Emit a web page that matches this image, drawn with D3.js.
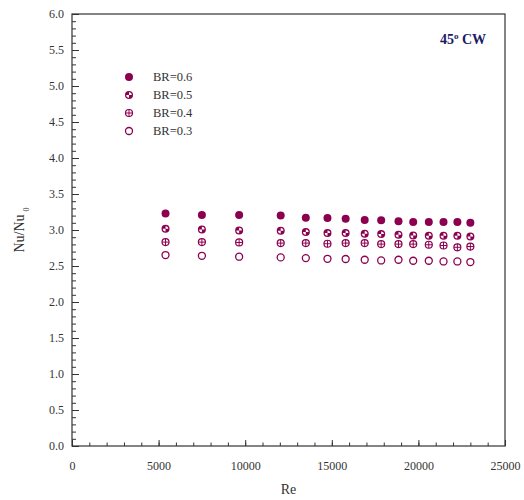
<!DOCTYPE html>
<html>
<head>
<meta charset="utf-8">
<script src="https://cdn.jsdelivr.net/npm/d3@7"></script>
<style>
  body { margin: 0; background: #fff; }
  text { font-family: "Liberation Serif", "Times New Roman", serif; }
</style>
</head>
<body>
<div id="chart"></div>
<script>
// Reynolds numbers for each measured point
var reValues = [5400, 7500, 9650, 12050, 13500, 14750, 15800, 16900, 17850, 18850, 19700, 20600, 21450, 22250, 23000];

// Nu/Nu0 for each blockage ratio
var br06 = [3.23, 3.21, 3.21, 3.20, 3.17, 3.165, 3.155, 3.14, 3.135, 3.12, 3.11, 3.11, 3.11, 3.11, 3.10];
var br05 = [3.016, 3.007, 2.993, 2.989, 2.971, 2.957, 2.957, 2.947, 2.943, 2.933, 2.924, 2.92, 2.92, 2.92, 2.91];
var br04 = [2.832, 2.832, 2.827, 2.818, 2.818, 2.809, 2.818, 2.818, 2.804, 2.804, 2.804, 2.795, 2.785, 2.76, 2.77];
var br03 = [2.652, 2.642, 2.629, 2.619, 2.61, 2.60, 2.597, 2.587, 2.577, 2.587, 2.573, 2.573, 2.563, 2.563, 2.555];

var seriesNames = ["BR=0.6", "BR=0.5", "BR=0.4", "BR=0.3"];
var seriesValues = [br06, br05, br04, br03];
var markerKinds = ["filled", "quarter", "cross", "open"];

var xTicks = [0, 5000, 10000, 15000, 20000, 25000];
var yTicks = [0, 0.5, 1, 1.5, 2, 2.5, 3, 3.5, 4, 4.5, 5, 5.5, 6];

var markColor = "#8c0050";
var axisColor = "#333";

var margin = { top: 14, right: 19, bottom: 54, left: 72 };
var width = 524 - margin.left - margin.right,
    height = 500 - margin.top - margin.bottom;

var svg = d3.select("#chart").append("svg")
    .attr("width", 524)
    .attr("height", 500);

var g = svg.append("g")
    .attr("transform", "translate(" + margin.left + "," + margin.top + ")");

var x = d3.scaleLinear().domain([0, 25000]).range([0, width]);
var y = d3.scaleLinear().domain([0, 6]).range([height, 0]);

// minor ticks (inward)
var xMinorAxis = d3.axisTop(x).tickValues(d3.range(0, 25001, 1000)).tickSize(3.5).tickFormat("");
var yMinorAxis = d3.axisRight(y).tickValues(d3.range(0, 61, 1).map(function(d) { return d / 10; })).tickSize(4).tickFormat("");

g.append("g").attr("class", "minor").attr("transform", "translate(0," + height + ")").call(xMinorAxis);
g.append("g").attr("class", "minor").call(yMinorAxis);

// major ticks inward, labels outside
var xAxis = d3.axisTop(x).tickValues(xTicks).tickSize(6).tickFormat(d3.format("d"));
var yAxis = d3.axisRight(y).tickValues(yTicks).tickSize(7).tickFormat(d3.format(".1f"));

var gx = g.append("g").attr("transform", "translate(0," + height + ")").call(xAxis);
gx.selectAll("text").attr("y", 15).attr("dy", "0.71em");
var gy = g.append("g").call(yAxis);
gy.selectAll("text").attr("x", -8).attr("text-anchor", "end");

g.selectAll(".domain").remove();
g.selectAll(".tick line").attr("stroke", axisColor);
g.selectAll(".tick text").attr("fill", "#333").style("font-size", "12px")
    .style("font-family", "'Liberation Serif', serif");

// frame
g.append("rect")
    .attr("width", width)
    .attr("height", height)
    .attr("fill", "none")
    .attr("stroke", axisColor)
    .attr("stroke-width", 1.2);

var r = 4;

function drawMarker(sel, kind) {
    if (kind === "filled") {
        sel.append("circle").attr("r", r).attr("fill", markColor);
    } else if (kind === "open") {
        sel.append("circle").attr("r", r - 0.5).attr("fill", "#fff")
            .attr("stroke", markColor).attr("stroke-width", 1.3);
    } else if (kind === "cross") {
        sel.append("circle").attr("r", r - 0.5).attr("fill", "#fff")
            .attr("stroke", markColor).attr("stroke-width", 1.2);
        sel.append("path").attr("d", "M" + (-r + 0.5) + ",0H" + (r - 0.5) + "M0," + (-r + 0.5) + "V" + (r - 0.5))
            .attr("stroke", markColor).attr("stroke-width", 1);
    } else if (kind === "quarter") {
        sel.append("circle").attr("r", r).attr("fill", markColor);
        var arc = d3.arc().innerRadius(0).outerRadius(r - 1.3);
        sel.append("path").attr("d", arc({ startAngle: 0, endAngle: Math.PI / 2 })).attr("fill", "#fff");
        sel.append("path").attr("d", arc({ startAngle: Math.PI, endAngle: Math.PI * 1.5 })).attr("fill", "#fff");
    }
}

seriesValues.forEach(function(vals, i) {
    var pts = g.append("g").selectAll("g")
        .data(vals)
        .enter().append("g")
        .attr("transform", function(d, j) { return "translate(" + x(reValues[j]) + "," + y(d) + ")"; });
    pts.each(function() { drawMarker(d3.select(this), markerKinds[i]); });
});

// legend
var legend = g.append("g").attr("transform", "translate(57,63)");
seriesNames.forEach(function(name, i) {
    var row = legend.append("g").attr("transform", "translate(0," + (i * 18) + ")");
    drawMarker(row, markerKinds[i]);
    row.append("text")
        .attr("x", 24)
        .attr("dy", "0.35em")
        .attr("fill", "#333")
        .style("font-size", "12.5px")
        .text(name);
});

// annotation
var ann = g.append("text")
    .attr("x", width - 19)
    .attr("y", 30)
    .attr("text-anchor", "end")
    .attr("fill", "#1c1a66")
    .style("font-size", "14px")
    .style("font-weight", "bold");
ann.append("tspan").text("45");
ann.append("tspan").attr("dy", -5).style("font-size", "9px").text("o");
ann.append("tspan").attr("dy", 5).text(" CW");

// axis titles
svg.append("text")
    .attr("x", margin.left + width / 2)
    .attr("y", 494)
    .attr("text-anchor", "middle")
    .attr("fill", "#333")
    .style("font-size", "14px")
    .text("Re");

var yl = svg.append("text")
    .attr("transform", "translate(24," + (margin.top + height / 2) + ") rotate(-90)")
    .attr("text-anchor", "middle")
    .attr("fill", "#333")
    .style("font-size", "14px");
yl.append("tspan").text("Nu/Nu");
yl.append("tspan").attr("dx", 3).attr("dy", 5).style("font-size", "8px").text("0");
</script>
</body>
</html>
